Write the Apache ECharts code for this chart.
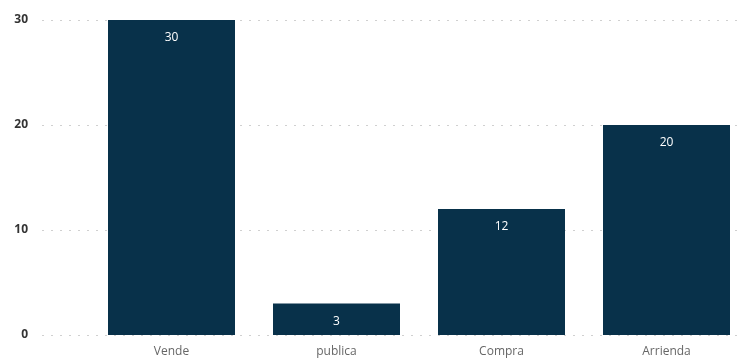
<!DOCTYPE html>
<html>
<head>
<meta charset="utf-8">
<script src="https://cdn.jsdelivr.net/npm/echarts@6/dist/echarts.min.js"></script>
<style>html,body{margin:0;padding:0;background:#fff}#c{width:743px;height:358px}</style>
</head>
<body>
<div id="c"></div>
<script>
const categories = ['Vende', 'publica', 'Compra', 'Arrienda'];
const values = [30, 3, 12, 20];
const yTicks = [0, 10, 20, 30];

const chart = echarts.init(document.getElementById('c'), null, {renderer: 'canvas'});
const font = '"Open Sans", "Noto Sans", sans-serif';
chart.setOption({
  animation: false,
  grid: [
    {left: 42, right: 0, top: 20, bottom: 23},
    {left: 171.5, right: 76.5, top: 20, bottom: 23}
  ],
  xAxis: [
    {gridIndex: 0, type: 'value', show: false, min: 0, max: 1},
    {gridIndex: 1, type: 'category', data: categories, boundaryGap: false,
     axisLine: {show: false}, axisTick: {show: false},
     axisLabel: {color: '#666', fontSize: 12, fontFamily: font, margin: 11}}
  ],
  yAxis: [
    {gridIndex: 0, type: 'value', min: yTicks[0], max: yTicks[yTicks.length - 1], interval: 10,
     axisLine: {show: false}, axisTick: {show: false},
     axisLabel: {color: '#333', fontSize: 12, fontWeight: 'bold', fontFamily: font, margin: 14},
     splitLine: {lineStyle: {type: [2, 7], color: '#d0d0d0', width: 1}}},
    {gridIndex: 1, type: 'value', min: yTicks[0], max: yTicks[yTicks.length - 1], show: false,
     splitLine: {show: false}}
  ],
  series: [{
    type: 'bar', xAxisIndex: 1, yAxisIndex: 1, data: values, barWidth: 127, clip: false,
    itemStyle: {color: '#08314a'},
    label: {show: true, position: 'insideTop', distance: 12, color: '#fff', fontSize: 12, fontFamily: font}
  }]
});
</script>
</body>
</html>
